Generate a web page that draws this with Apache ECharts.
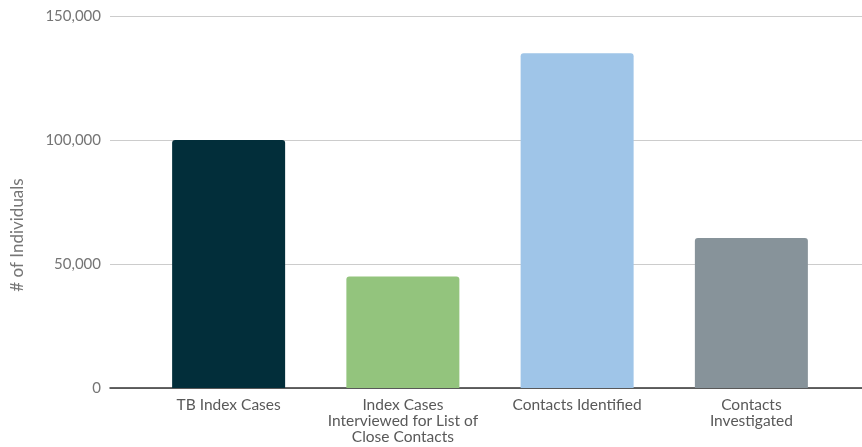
<!DOCTYPE html>
<html>
<head>
<meta charset="utf-8">
<script src="https://cdn.jsdelivr.net/npm/echarts@6/dist/echarts.min.js"></script>
<style>
  html, body { margin: 0; padding: 0; background: #ffffff; }
  #chart { width: 862px; height: 447px; }
</style>
</head>
<body>
<div id="chart"></div>
<script>
// Contact investigation funnel
const categories = [
  'TB Index Cases',
  'Index Cases\nInterviewed for List of\nClose Contacts',
  'Contacts Identified',
  'Contacts\nInvestigated'
];
const individuals = [100000, 45000, 135000, 60500];
const yTicks = [0, 50000, 100000, 150000];

const barColors = ['#022e3a', '#93c47d', '#9fc5e8', '#87939a'];
const FONT = 'Lato, "Open Sans", sans-serif';

const chart = echarts.init(document.getElementById('chart'));

const fmt = v => v.toLocaleString('en-US');

chart.setOption({
  animation: false,
  backgroundColor: '#ffffff',
  grid: [
    { left: 110, right: 0, top: 16, bottom: 59 },
    { left: 141.5, right: 23.5, top: 16, bottom: 59 }
  ],
  xAxis: [
    {
      gridIndex: 0, type: 'value', min: 0, max: 1,
      axisLine: { show: true, lineStyle: { color: '#333333', width: 1.5 } },
      axisTick: { show: false }, axisLabel: { show: false }, splitLine: { show: false }
    },
    {
      gridIndex: 1, type: 'category', data: categories,
      axisLine: { show: false }, axisTick: { show: false },
      axisLabel: {
        interval: 0, color: '#595959', fontFamily: FONT, fontSize: 15.5,
        lineHeight: 16, margin: 9
      }
    }
  ],
  yAxis: [
    {
      gridIndex: 0, type: 'value',
      min: yTicks[0], max: yTicks[yTicks.length - 1], interval: yTicks[1] - yTicks[0],
      axisLine: { show: false }, axisTick: { show: false },
      axisLabel: { color: '#757575', fontFamily: FONT, fontSize: 15, margin: 9, formatter: fmt },
      splitLine: { lineStyle: { color: '#cccccc', width: 1 } }
    },
    {
      gridIndex: 1, type: 'value',
      min: yTicks[0], max: yTicks[yTicks.length - 1],
      show: false, splitLine: { show: false }
    }
  ],
  graphic: [{
    type: 'text',
    x: 18, y: 235,
    rotation: Math.PI / 2,
    style: {
      text: '# of Individuals',
      fill: '#757575',
      font: '17px ' + FONT,
      textAlign: 'center',
      textVerticalAlign: 'middle'
    }
  }],
  series: [{
    type: 'bar',
    xAxisIndex: 1, yAxisIndex: 1,
    barWidth: 113,
    data: individuals.map((v, i) => ({
      value: v,
      itemStyle: { color: barColors[i], borderRadius: [3, 3, 0, 0] }
    }))
  }]
});
</script>
</body>
</html>
